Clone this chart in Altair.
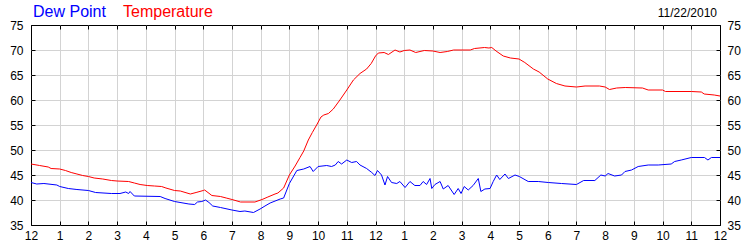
import altair as alt
import pandas as pd

# ---- data (hours since midnight, degrees F) ----
temp_hours = [0.0, 0.3, 0.6, 0.7, 1.0, 1.2, 1.4, 1.6, 1.8, 2.0, 2.2, 2.5, 2.8, 3.0, 3.4, 3.6, 3.8,
              4.05, 4.3, 4.55, 4.7, 5.0, 5.2, 5.55, 5.75, 6.0, 6.05, 6.3, 6.6, 6.8, 7.0, 7.3, 7.8,
              8.05, 8.25, 8.5, 8.6, 8.8, 9.0, 9.2, 9.37, 9.5, 9.66, 9.8, 9.95, 10.1, 10.2, 10.36,
              10.53, 10.76, 11.0, 11.23, 11.46, 11.69, 11.85, 12.0, 12.1, 12.3, 12.45, 12.68, 12.85,
              13.0, 13.2, 13.4, 13.7, 14.0, 14.25, 14.5, 14.72, 15.3, 15.45, 15.8, 15.95, 16.05,
              16.2, 16.45, 16.7, 17.0, 17.2, 17.5, 17.7, 18.0, 18.3, 18.6, 19.0, 19.3, 19.8, 20.0,
              20.15, 20.4, 20.7, 21.3, 21.5, 22.0, 22.1, 23.0, 23.35, 23.45, 23.8, 24.0]
temp_values = [47.2, 46.9, 46.6, 46.3, 46.2, 45.9, 45.5, 45.2, 44.9, 44.7, 44.4, 44.2, 43.9, 43.8,
               43.7, 43.4, 43.1, 42.9, 42.8, 42.7, 42.4, 41.9, 41.8, 41.2, 41.5, 41.9, 42.0, 40.9,
               40.7, 40.4, 40.1, 39.6, 39.6, 40.1, 40.6, 41.2, 41.4, 42.4, 45.0, 46.8, 48.5, 49.8,
               52.0, 53.5, 55.0, 56.6, 57.0, 57.3, 58.2, 60.0, 62.0, 64.0, 65.3, 66.2, 67.3, 68.8,
               69.4, 69.5, 69.1, 70.0, 69.6, 69.9, 70.0, 69.5, 69.9, 69.8, 69.5, 69.7, 70.0, 70.0,
               70.3, 70.5, 70.4, 70.5, 69.8, 68.8, 68.4, 68.2, 67.5, 66.2, 65.6, 64.2, 63.3, 62.8,
               62.6, 62.8, 62.8, 62.6, 62.1, 62.4, 62.5, 62.4, 62.0, 62.0, 61.7, 61.7, 61.6, 61.2,
               61.0, 60.8]

dew_hours = [0.0, 0.2, 0.45, 0.9, 1.0, 1.3, 1.6, 2.0, 2.25, 2.8, 3.1, 3.3, 3.4, 3.45, 3.6, 4.5,
             4.67, 5.0, 5.5, 5.7, 5.8, 5.95, 6.08, 6.2, 6.33, 6.6, 7.0, 7.28, 7.45, 7.75, 7.98,
             8.15, 8.33, 8.68, 8.8, 9.0, 9.26, 9.5, 9.72, 9.83, 10.0, 10.3, 10.47, 10.6, 10.7,
             10.82, 11.0, 11.17, 11.34, 11.46, 11.69, 11.87, 11.98, 12.07, 12.21, 12.33, 12.42,
             12.56, 12.74, 12.85, 13.03, 13.2, 13.37, 13.55, 13.66, 13.78, 13.9, 13.96, 14.07,
             14.25, 14.36, 14.53, 14.74, 14.88, 14.98, 15.09, 15.23, 15.4, 15.58, 15.67, 15.81,
             15.99, 16.1, 16.22, 16.33, 16.51, 16.63, 16.86, 17.01, 17.32, 17.67, 18.02, 18.48,
             19.0, 19.25, 19.64, 19.85, 20.0, 20.1, 20.33, 20.57, 20.69, 20.92, 21.15, 21.5,
             21.85, 22.3, 22.42, 22.65, 23.0, 23.46, 23.58, 23.7, 24.0]
dew_values = [43.5, 43.2, 43.3, 43.0, 42.7, 42.3, 42.1, 41.9, 41.5, 41.3, 41.3, 41.6, 41.3, 41.7,
              40.8, 40.7, 40.3, 39.7, 39.2, 39.1, 39.6, 39.7, 40.0, 39.5, 38.8, 38.5, 38.0, 37.7,
              37.8, 37.5, 38.2, 38.8, 39.4, 40.2, 40.4, 43.3, 45.9, 46.2, 46.7, 45.7, 46.7, 46.9,
              46.7, 47.0, 47.7, 47.2, 48.0, 47.5, 47.7, 47.0, 46.3, 45.5, 44.9, 45.9, 45.0, 43.0,
              44.7, 43.5, 43.3, 43.7, 42.5, 43.7, 42.9, 42.9, 43.7, 43.1, 44.3, 42.3, 43.1, 43.7,
              42.2, 42.9, 41.1, 42.3, 41.3, 42.7, 42.0, 42.9, 44.3, 41.7, 42.2, 42.3, 43.7, 45.0,
              44.1, 45.2, 44.3, 45.0, 44.7, 43.7, 43.7, 43.5, 43.3, 43.1, 43.9, 43.9, 45.0, 44.8,
              45.3, 44.8, 45.0, 45.7, 46.0, 46.7, 47.0, 47.0, 47.2, 47.7, 48.0, 48.5, 48.5, 48.0,
              48.5, 48.5]

hour_ticks = list(range(0, 25))
value_ticks = [35, 40, 45, 50, 55, 60, 65, 70, 75]

dew_label = ["Dew Point"]
temp_label = ["Temperature"]
date_label = ["11/22/2010"]

FONT = "Liberation Sans"

temp_df = pd.DataFrame({"hour": temp_hours, "value": temp_values})
dew_df = pd.DataFrame({"hour": dew_hours, "value": dew_values})

xscale = alt.Scale(domain=[0, 24], nice=False, zero=False)
yscale = alt.Scale(domain=[35, 75], nice=False, zero=False)

hour_expr = "datum.value % 12 == 0 ? '12' : '' + (datum.value % 12)"

x_grid_color = {"condition": {"test": "datum.value == 0 || datum.value == 24", "value": "transparent"},
                "value": "#d3d3d3"}
y_grid_color = {"condition": {"test": "datum.value == 35 || datum.value == 75", "value": "transparent"},
                "value": "#d3d3d3"}

dew_line = alt.Chart(dew_df).mark_line(color="#0000ff", strokeWidth=1).encode(
    x=alt.X("hour:Q", scale=xscale, title=None,
            axis=alt.Axis(orient="bottom", values=hour_ticks, labelExpr=hour_expr,
                          offset=-4, tickSize=4, tickColor="black", domain=False,
                          grid=True, gridColor=x_grid_color, labelPadding=5,
                          labelFontSize=12, labelFont=FONT, labelColor="black",
                          labelFlush=False, labelOverlap=False)),
    y=alt.Y("value:Q", scale=yscale, title=None,
            axis=alt.Axis(orient="left", values=value_ticks, offset=-4, tickSize=4,
                          tickColor="black", domain=False, grid=True, gridColor=y_grid_color,
                          labelPadding=8, labelFontSize=12, labelFont=FONT, labelColor="black",
                          labelFlush=False, labelOverlap=False)),
)

temp_line = alt.Chart(temp_df).mark_line(color="#ff0000", strokeWidth=1).encode(
    x=alt.X("hour:Q", scale=xscale, title=None,
            axis=alt.Axis(orient="top", values=hour_ticks, labels=False, offset=-4,
                          tickSize=4, tickColor="black", domain=False, grid=False)),
    y=alt.Y("value:Q", scale=yscale, title=None,
            axis=alt.Axis(orient="right", values=value_ticks, offset=-4, tickSize=4,
                          tickColor="black", domain=False, grid=False, labelPadding=7,
                          labelFontSize=12, labelFont=FONT, labelColor="black",
                          labelFlush=False, labelOverlap=False)),
)

dew_text = alt.Chart(pd.DataFrame({"t": dew_label})).mark_text(
    align="left", baseline="alphabetic", fontSize=16, font=FONT, color="#0000ff"
).encode(text="t:N", x=alt.value(2), y=alt.value(-8))

temp_text = alt.Chart(pd.DataFrame({"t": temp_label})).mark_text(
    align="left", baseline="alphabetic", fontSize=16, font=FONT, color="#ff0000"
).encode(text="t:N", x=alt.value(92), y=alt.value(-8))

date_text = alt.Chart(pd.DataFrame({"t": date_label})).mark_text(
    align="right", baseline="alphabetic", fontSize=12, font=FONT, color="black"
).encode(text="t:N", x=alt.value(686), y=alt.value(-8))

chart = alt.layer(dew_line, temp_line, dew_text, temp_text, date_text).resolve_axis(
    x="independent", y="independent"
).properties(
    width=689, height=200,
    padding={"left": 31, "top": 25, "right": 30, "bottom": 25},
    autosize=alt.AutoSizeParams(type="none"),
    background="white",
).configure_view(stroke="black", strokeWidth=1)

chart.save("out.html", embed_options={"renderer": "svg", "actions": False})
